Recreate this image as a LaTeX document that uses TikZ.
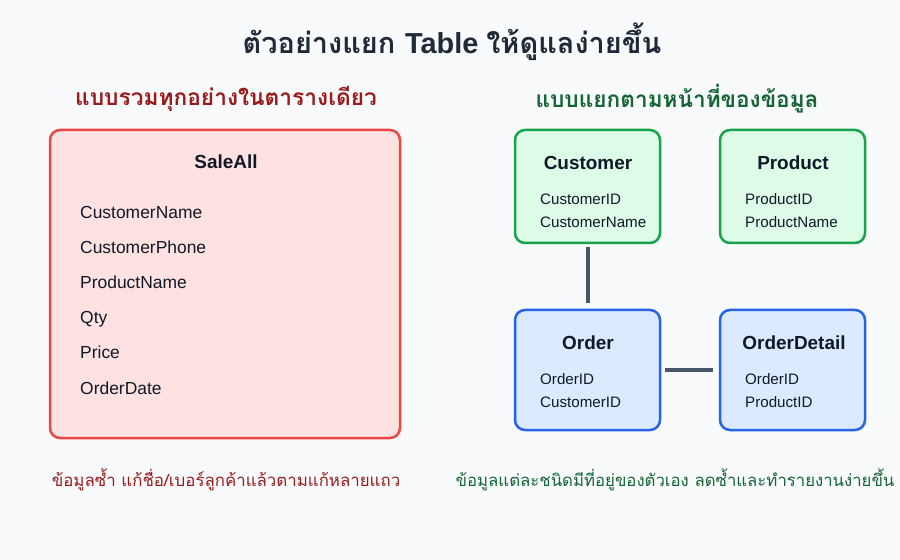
\documentclass[tikz,border=0pt]{standalone}
\usepackage{fontspec}
\setmainfont{Liberation Sans}
\newfontfamily\thaifont[Script=Thai]{Loma}
\definecolor{bgc}{HTML}{F8FAFC}
\definecolor{titlec}{HTML}{1F2937}
\definecolor{redh}{HTML}{991B1B}
\definecolor{greenh}{HTML}{166534}
\definecolor{redfill}{HTML}{FEE2E2}
\definecolor{redline}{HTML}{EF4444}
\definecolor{greenfill}{HTML}{DCFCE7}
\definecolor{greenline}{HTML}{16A34A}
\definecolor{bluefill}{HTML}{DBEAFE}
\definecolor{blueline}{HTML}{2563EB}
\definecolor{linkc}{HTML}{475569}
\definecolor{textc}{HTML}{111827}
\begin{document}
\begin{tikzpicture}[x=1bp,y=-1bp,
  redbox/.style={draw=redline,fill=redfill,line width=2.5bp,rounded corners=10bp},
  greenbox/.style={draw=greenline,fill=greenfill,line width=2.5bp,rounded corners=10bp},
  bluebox/.style={draw=blueline,fill=bluefill,line width=2.5bp,rounded corners=10bp},
  boxtitle/.style={font=\fontsize{19}{21}\selectfont\bfseries,text=textc},
  field/.style={font=\fontsize{17.5}{20}\selectfont,text=textc,anchor=base west,inner sep=0pt},
  sfield/.style={font=\fontsize{15.2}{17}\selectfont,text=textc,anchor=base west,inner sep=0pt},
  link/.style={draw=linkc,line width=4bp}]
\fill[bgc] (0,0) rectangle (900,560);
\useasboundingbox (0,0) rectangle (900,560);
\node[font=\fontsize{29}{33}\selectfont\bfseries,text=titlec] (title) at (452,42)
  {\thaifont ตัวอย่างแยก \normalfont\bfseries Table \thaifont ให้ดูแลง่ายขึ้น};
\node[font=\thaifont\fontsize{22.8}{26}\selectfont\bfseries,text=redh] (lh) at (226,99) {แบบรวมทุกอย่างในตารางเดียว};
\node[font=\thaifont\fontsize{22.7}{26}\selectfont\bfseries,text=greenh] (rh) at (677,99) {แบบแยกตามหน้าที่ของข้อมูล};
% left table
\draw[redbox] (50,130) rectangle (400,438);
\node[boxtitle] (sale) at (226,162) {SaleAll};
\node[field] (f1) at (80,219) {CustomerName};
\node[field] (f2) at (80,254) {CustomerPhone};
\node[field] (f3) at (80,289) {ProductName};
\node[field] (f4) at (80,324) {Qty};
\node[field] (f5) at (80,359) {Price};
\node[field] (f6) at (80,394) {OrderDate};
% right tables
\draw[greenbox] (515,130) rectangle (660,243);
\coordinate (custb) at (588,247);
\node[boxtitle] (cust) at (588,163) {Customer};
\node[sfield] at (540,204.5) {CustomerID};
\node[sfield] at (540,227.5) {CustomerName};
\draw[greenbox] (720,130) rectangle (865,243);
\node[boxtitle] (prod) at (793,163) {Product};
\node[sfield] at (745,204.5) {ProductID};
\node[sfield] at (745,227.5) {ProductName};
\draw[bluebox] (515,310) rectangle (660,430);
\coordinate (ordt) at (588,303);
\coordinate (ordr) at (665,370);
\node[boxtitle] (ord) at (588,343) {Order};
\node[sfield] at (540,384.5) {OrderID};
\node[sfield] at (540,407.5) {CustomerID};
\draw[bluebox] (720,310) rectangle (865,430);
\coordinate (odl) at (713,370);
\node[boxtitle] (od) at (794,343) {OrderDetail};
\node[sfield] at (745,384.5) {OrderID};
\node[sfield] at (745,407.5) {ProductID};
\draw[link] (custb) -- (ordt);
\draw[link] (ordr) -- (odl);
% captions
\node[font=\thaifont\fontsize{16.9}{20}\selectfont,text=redh] (lc) at (226,480) {ข้อมูลซ้ำ แก้ชื่อ/เบอร์ลูกค้าแล้วตามแก้หลายแถว};
\node[font=\thaifont\fontsize{16.8}{20}\selectfont,text=greenh] (rc) at (675,480) {ข้อมูลแต่ละชนิดมีที่อยู่ของตัวเอง ลดซ้ำและทำรายงานง่ายขึ้น};
\end{tikzpicture}
\end{document}
